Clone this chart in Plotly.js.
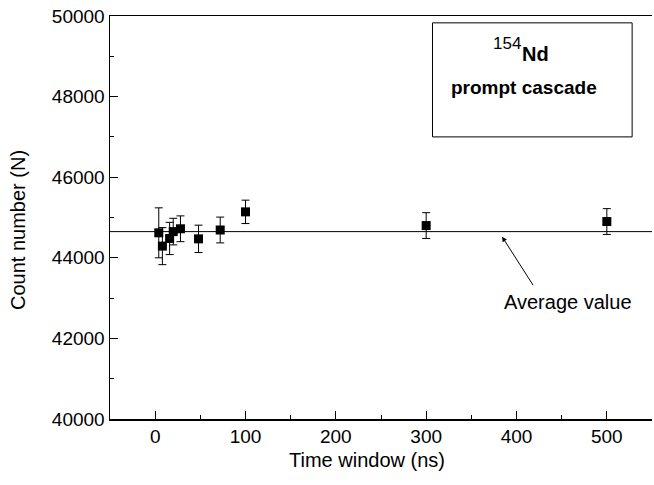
<!DOCTYPE html>
<html>
<head>
<meta charset="utf-8">
<script src="https://cdn.plot.ly/plotly-3.0.1.min.js"></script>
<style>html,body{margin:0;padding:0;background:#fff;}#chart{width:654px;height:485px;}</style>
</head>
<body>
<div id="chart"></div>
<script>
// Data
const timeWindow = [4, 8, 16, 20, 28, 48, 72, 100, 300, 500];
const countNumber = [44620, 44290, 44480, 44650, 44720, 44470, 44690, 45140, 44800, 44900];
const countError = [620, 460, 400, 330, 320, 340, 320, 290, 320, 320];
const averageValue = 44650;
const xRange = [-50, 550];
const yRange = [40000, 50000];
const xTickVals = [0, 100, 200, 300, 400, 500];
const xTickText = ['0', '100', '200', '300', '400', '500'];
const yTickVals = [40000, 42000, 44000, 46000, 48000, 50000];
const yTickText = ['40000', '42000', '44000', '46000', '48000', '50000'];

const font = "Arial, 'Liberation Sans', Helvetica, sans-serif";

const traces = [
  {
    x: xRange,
    y: [averageValue, averageValue],
    mode: 'lines',
    line: {color: '#000', width: 1},
    hoverinfo: 'skip',
    showlegend: false
  },
  {
    x: timeWindow,
    y: countNumber,
    mode: 'markers',
    marker: {symbol: 'square', size: 9, color: '#000'},
    error_y: {type: 'data', array: countError, visible: true, color: '#000', thickness: 1, width: 4},
    showlegend: false
  }
];

const layout = {
  width: 654,
  height: 485,
  margin: {l: 110, r: 2, t: 16, b: 66},
  paper_bgcolor: '#fff',
  plot_bgcolor: '#fff',
  font: {family: font, color: '#000', size: 19},
  xaxis: {
    range: xRange,
    tickvals: xTickVals,
    ticktext: xTickText,
    ticks: 'inside',
    ticklen: 8,
    tickwidth: 1,
    tickcolor: '#000',
    minor: {dtick: 50, ticks: 'inside', ticklen: 4, tickcolor: '#000'},
    showline: true,
    linecolor: '#000',
    linewidth: 1.5,
    mirror: true,
    showgrid: false,
    zeroline: false,
    tickfont: {size: 19}
  },
  yaxis: {
    range: yRange,
    tickvals: yTickVals,
    ticktext: yTickText,
    ticks: 'inside',
    ticklen: 8,
    tickwidth: 1,
    tickcolor: '#000',
    minor: {dtick: 1000, ticks: 'inside', ticklen: 4, tickcolor: '#000'},
    showline: true,
    linecolor: '#000',
    linewidth: 1.5,
    showgrid: false,
    zeroline: false,
    tickfont: {size: 19}
  },
  shapes: [
    {type: 'rect', xref: 'x', yref: 'y', x0: 307, x1: 528, y0: 47000, y1: 49830,
     line: {color: '#000', width: 1}, fillcolor: 'rgba(0,0,0,0)'}
  ],
  annotations: [
    {xref: 'paper', yref: 'paper', x: 0.474, y: -0.1017, text: 'Time window (ns)', showarrow: false,
     font: {size: 20}, xanchor: 'center', yanchor: 'middle'},
    {xref: 'paper', yref: 'paper', x: -0.1697, y: 0.469, text: 'Count number (N)', showarrow: false,
     font: {size: 20}, textangle: -90, xanchor: 'center', yanchor: 'middle'},
    {xref: 'x', yref: 'y', x: 384, y: 44525, ax: 32, ay: 50, text: '', showarrow: true,
     arrowhead: 2, arrowsize: 1, arrowwidth: 1, arrowcolor: '#000'},
    {xref: 'x', yref: 'y', x: 456.5, y: 42903, text: 'Average value', showarrow: false,
     font: {size: 20}},
    {xref: 'x', yref: 'y', x: 389, y: 49330, text: '154', showarrow: false, font: {size: 17}},
    {xref: 'x', yref: 'y', x: 421, y: 49050, text: '<b>Nd</b>', showarrow: false, font: {size: 20}},
    {xref: 'x', yref: 'y', x: 408.3, y: 48220, text: '<b>prompt cascade</b>', showarrow: false, font: {size: 19}}
  ]
};

Plotly.newPlot('chart', traces, layout, {displayModeBar: false, staticPlot: true});
</script>
</body>
</html>
